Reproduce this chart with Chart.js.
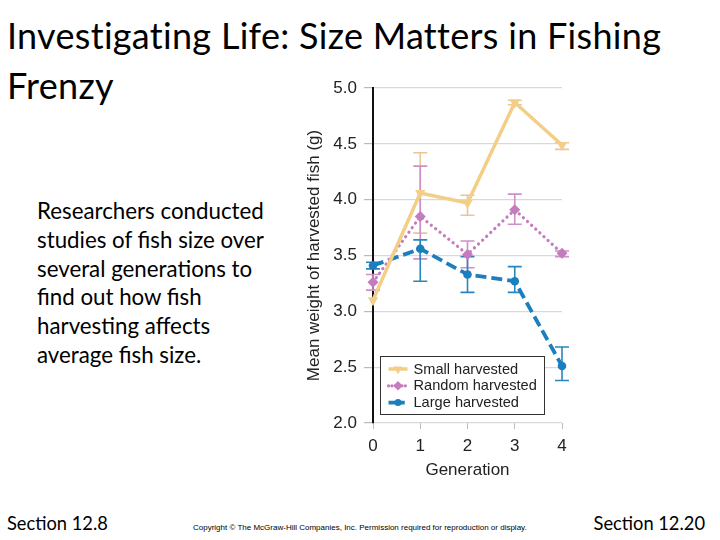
<!DOCTYPE html>
<html>
<head>
<meta charset="utf-8">
<script src="https://cdn.jsdelivr.net/npm/chart.js@4"></script>
<style>
  html, body { margin: 0; padding: 0; background: #fff; }
  body { width: 720px; height: 540px; position: relative; overflow: hidden; font-family: Lato, "Open Sans", sans-serif; color: #000; }
  #title { position: absolute; left: 7px; top: 10px; font-size: 36px; line-height: 50px; letter-spacing: 0.3px; }
  #para { position: absolute; left: 37px; top: 197px; font-size: 22.3px; line-height: 28.8px; }
  #secL { position: absolute; left: 7px; top: 512px; font-size: 18.3px; }
  #secR { position: absolute; right: 15px; top: 512px; font-size: 18.3px; }
  #copy { position: absolute; left: 193px; top: 523px; font-family: "Liberation Sans", Arial, sans-serif; font-size: 8px; color: #000; }
  #wrap { position: absolute; left: 295px; top: 70px; width: 300px; height: 420px; }
</style>
</head>
<body>
<div id="title">Investigating Life: Size Matters in Fishing<br>Frenzy</div>
<div id="para">Researchers conducted<br>studies of fish size over<br>several generations to<br>find out how fish<br>harvesting affects<br>average fish size.</div>
<div id="secL">Section 12.8</div>
<div id="secR">Section 12.20</div>
<div id="copy">Copyright © The McGraw-Hill Companies, Inc. Permission required for reproduction or display.</div>
<div id="wrap"><canvas id="c" width="300" height="420"></canvas></div>
<script>
const generations = ['0', '1', '2', '3', '4'];
const seriesNames = ['Small harvested', 'Random harvested', 'Large harvested'];
const smallMean  = [3.10, 4.06, 3.97, 4.87, 4.49];
const smallHi    = [3.10, 4.42, 4.04, 4.89, 4.51];
const smallLo    = [3.10, 3.70, 3.86, 4.85, 4.45];
const randomMean = [3.26, 3.85, 3.51, 3.91, 3.52];
const randomHi   = [3.33, 4.30, 3.63, 4.05, 3.54];
const randomLo   = [3.19, 3.47, 3.39, 3.78, 3.49];
const largeMean  = [3.41, 3.56, 3.33, 3.27, 2.51];
const largeHi    = [3.44, 3.64, 3.49, 3.40, 2.68];
const largeLo    = [3.38, 3.27, 3.17, 3.17, 2.38];
const yTicks = [2.0, 2.5, 3.0, 3.5, 4.0, 4.5, 5.0];

const COL_SMALL = '#F2CE86';
const COL_RANDOM = '#C47CBE';
const COL_LARGE = '#1B7EBE';
const COL_SMALL_ERR = '#E9C795';
const COL_RANDOM_ERR = '#CF8FC9';
const COL_LARGE_ERR = '#2A86BE';
const FONT = '"Liberation Sans", Arial, sans-serif';

const errorBars = {
  id: 'errorBars',
  beforeDatasetsDraw(chart) {
    const ctx = chart.ctx;
    const x = chart.scales.x, y = chart.scales.y;
    chart.data.datasets.forEach((ds) => {
      if (!ds.errHi) return;
      ctx.save();
      ctx.strokeStyle = ds.errColor;
      ctx.lineWidth = 1.6;
      ds.data.forEach((v, i) => {
        const hi = ds.errHi[i], lo = ds.errLo[i];
        if (hi === lo) return;
        const px = x.getPixelForValue(i);
        const yh = y.getPixelForValue(hi), yl = y.getPixelForValue(lo);
        ctx.beginPath();
        ctx.moveTo(px, yh); ctx.lineTo(px, yl);
        ctx.moveTo(px - 7, yh); ctx.lineTo(px + 7, yh);
        ctx.moveTo(px - 7, yl); ctx.lineTo(px + 7, yl);
        ctx.stroke();
      });
      ctx.restore();
    });
  }
};

const boxLegend = {
  id: 'boxLegend',
  afterDraw(chart) {
    const ctx = chart.ctx;
    const a = chart.chartArea;
    const bx = a.left + 7.5, by = a.bottom - 66.5, bw = 164, bh = 58;
    ctx.save();
    ctx.fillStyle = '#fff';
    ctx.fillRect(bx, by, bw, bh);
    ctx.strokeStyle = '#333';
    ctx.lineWidth = 1;
    ctx.strokeRect(bx, by, bw, bh);
    ctx.font = '14.6px ' + FONT;
    ctx.textBaseline = 'middle';
    chart.data.datasets.forEach((ds, i) => {
      const cy = by + 12.5 + i * 16.8;
      const x0 = bx + 8, x1 = bx + 27;
      ctx.save();
      ctx.strokeStyle = ds.borderColor;
      ctx.lineWidth = ds.borderWidth;
      ctx.setLineDash(ds.borderDash ? ds.borderDash.map((d) => d * 0.6) : []);
      ctx.lineCap = ds.borderCapStyle || 'butt';
      ctx.beginPath(); ctx.moveTo(x0, cy); ctx.lineTo(x1, cy); ctx.stroke();
      ctx.restore();
      ctx.fillStyle = ds.pointBackgroundColor;
      ctx.strokeStyle = ds.pointBackgroundColor;
      Chart.helpers.drawPoint(ctx, {
        pointStyle: ds.pointStyle, radius: ds.pointRadius - 0.8, rotation: ds.pointRotation || 0, borderWidth: 0
      }, (x0 + x1) / 2, cy);
      ctx.fillStyle = '#222';
      ctx.fillText(seriesNames[i], bx + 33, cy + 0.5);
    });
    ctx.restore();
  }
};

new Chart(document.getElementById('c'), {
  type: 'line',
  data: {
    labels: generations,
    datasets: [
      {
        label: seriesNames[0], data: smallMean, errHi: smallHi, errLo: smallLo, errColor: COL_SMALL_ERR,
        borderColor: COL_SMALL, backgroundColor: COL_SMALL, pointBackgroundColor: COL_SMALL, pointBorderColor: COL_SMALL,
        borderWidth: 3.5, pointStyle: 'triangle', pointRotation: 180, pointRadius: 6, pointBorderWidth: 0, tension: 0, clip: false
      },
      {
        label: seriesNames[1], data: randomMean, errHi: randomHi, errLo: randomLo, errColor: COL_RANDOM_ERR,
        borderColor: COL_RANDOM, backgroundColor: COL_RANDOM, pointBackgroundColor: COL_RANDOM, pointBorderColor: COL_RANDOM,
        borderWidth: 3.2, borderDash: [0.1, 5.5], borderCapStyle: 'round', pointStyle: 'rectRot', pointRadius: 5.5, pointBorderWidth: 0, tension: 0, clip: false
      },
      {
        label: seriesNames[2], data: largeMean, errHi: largeHi, errLo: largeLo, errColor: COL_LARGE_ERR,
        borderColor: COL_LARGE, backgroundColor: COL_LARGE, pointBackgroundColor: COL_LARGE, pointBorderColor: COL_LARGE,
        borderWidth: 3.8, borderDash: [11, 5], pointStyle: 'circle', pointRadius: 4.3, pointBorderWidth: 0, tension: 0, clip: false
      }
    ]
  },
  options: {
    responsive: false,
    animation: false,
    layout: { padding: { left: 0, right: 33, top: 18, bottom: 0 } },
    plugins: { legend: { display: false }, tooltip: { enabled: false } },
    scales: {
      x: {
        type: 'linear', min: 0, max: 4,
        afterFit: (s) => { s.height = 67; },
        afterBuildTicks: (s) => { s.ticks = generations.map((g) => ({ value: Number(g) })); },
        grid: { drawOnChartArea: false, drawTicks: true, tickLength: 6, color: '#bbb' },
        border: { display: false },
        ticks: { color: '#222', font: { family: FONT, size: 17 }, padding: 7, callback: (v) => String(v) },
        title: { display: true, text: 'Generation', color: '#222', font: { family: FONT, size: 17 }, padding: { top: 4, bottom: 9 } }
      },
      y: {
        min: 2, max: 5,
        afterFit: (s) => { s.width = 78; },
        afterBuildTicks: (s) => { s.ticks = yTicks.map((v) => ({ value: v })); },
        grid: { color: '#d9d9d9', lineWidth: 1.2, tickLength: 9, tickColor: '#bbb' },
        border: { display: true, color: '#111', width: 2 },
        ticks: { color: '#222', font: { family: FONT, size: 17 }, padding: 7, callback: (v) => v.toFixed(1) },
        title: { display: true, text: 'Mean weight of harvested fish (g)', color: '#222', font: { family: FONT, size: 17 }, padding: { top: 9, bottom: 0 } }
      }
    }
  },
  plugins: [errorBars, boxLegend]
});
</script>
</body>
</html>
